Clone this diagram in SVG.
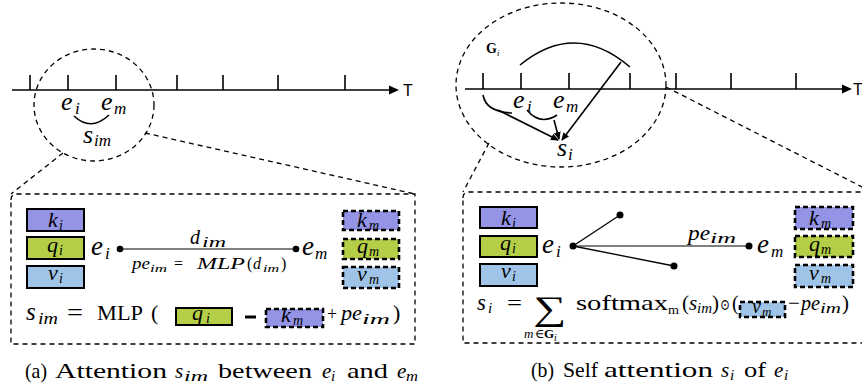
<svg xmlns="http://www.w3.org/2000/svg" width="862" height="389" viewBox="0 0 862 389">
<style>
.ln{stroke:#000;stroke-width:1.6;fill:none}
.tk{stroke:#000;stroke-width:1.6}
.dsh{stroke:#000;stroke-width:1.3;fill:none;stroke-dasharray:5,4}
.sb{stroke:#000;stroke-width:2;}
.db{stroke:#000;stroke-width:2.6;stroke-dasharray:5,3}
.pur{fill:#9494e6}
.grn{fill:#b4cf47}
.blu{fill:#9fc4e7}
.m{font-family:"Liberation Serif","DejaVu Serif",serif;font-style:italic;fill:#000}
.r{font-family:"Liberation Serif","DejaVu Serif",serif;fill:#000}
.s{font-family:"Liberation Sans",Arial,sans-serif;fill:#000}
</style>
<defs>
<marker id="ah" markerWidth="8" markerHeight="8" refX="7" refY="4" orient="auto" markerUnits="userSpaceOnUse">
<path d="M0,0.5 L8,4 L0,7.5 z" fill="#000"/>
</marker>
</defs>

<!-- ===== Panel (a) ===== -->
<g id="timeline-a">
<line class="ln" x1="12" y1="90" x2="390" y2="90"/>
<path d="M389,85.5 L399,90 L389,94.5 z" fill="#000"/>
<text class="s" x="403" y="96" font-size="16">T</text>
<line class="tk" x1="30" y1="75" x2="30" y2="90"/>
<line class="tk" x1="68" y1="75" x2="68" y2="90"/>
<line class="tk" x1="116" y1="75" x2="116" y2="90"/>
<line class="tk" x1="177" y1="75" x2="177" y2="90"/>
<line class="tk" x1="223" y1="75" x2="223" y2="90"/>
<line class="tk" x1="278" y1="75" x2="278" y2="90"/>
<line class="tk" x1="345" y1="75" x2="345" y2="90"/>
</g>
<g id="zoom-a">
<ellipse class="dsh" cx="94" cy="105" rx="60" ry="56"/>
<text class="m" font-size="26" x="61" y="110">e</text><text class="m" font-size="17" x="75" y="114">i</text>
<text class="m" font-size="26" x="101" y="110">e</text><text class="m" font-size="17" x="114" y="114">m</text>
<text class="m" font-size="26" x="83" y="143">s</text><text class="m" font-size="17" x="94" y="146">im</text>
</g>
<g id="connectors">
<path class="ln" d="M74,116 Q91,132 109,115"/>
<line class="dsh" x1="63" y1="153" x2="11" y2="194"/>
<line class="dsh" x1="145" y1="133" x2="415" y2="194"/>
<path class="ln" d="M520,65 Q575,20 630,67"/>
<line class="ln" x1="621" y1="62" x2="562" y2="140" marker-end="url(#ah)"/>
<path class="ln" d="M483,95 Q486,112 512,113"/>
<line class="ln" x1="498" y1="110" x2="558" y2="140" marker-end="url(#ah)"/>
<path class="ln" d="M527,110 Q540,126 557,115"/>
<line class="ln" x1="554" y1="120" x2="559" y2="139" marker-end="url(#ah)"/>
<line class="dsh" x1="489" y1="143" x2="463" y2="192"/>
<line class="dsh" x1="666" y1="87" x2="870" y2="191"/>
<line stroke="#000" stroke-width="1" x1="120" y1="249" x2="296" y2="249"/>
<line stroke="#000" stroke-width="1.3" x1="573" y1="246" x2="620" y2="215"/>
<line stroke="#000" stroke-width="1.3" x1="573" y1="246" x2="674" y2="266"/>
<line stroke="#000" stroke-width="1" x1="573" y1="246" x2="749" y2="246"/>
</g>
<g id="box-a">
<path class="dsh" d="M11,200 Q11,194 17,194 L415,194 L415,344 L11,344 Z"/>
</g>
<g id="ki-a"><rect class="sb pur" x="27" y="209" width="57" height="22"/>
<text class="m" font-size="22" x="48" y="227">k</text><text class="m" font-size="14" x="59" y="230">i</text></g>
<g id="qi-a"><rect class="sb grn" x="27" y="237" width="57" height="22"/>
<text class="m" font-size="22" x="47" y="252">q</text><text class="m" font-size="14" x="59" y="255">i</text></g>
<g id="vi-a"><rect class="sb blu" x="27" y="266" width="57" height="22"/>
<text class="m" font-size="22" x="48" y="280">v</text><text class="m" font-size="14" x="59" y="283">i</text></g>
<g id="km-a"><rect class="db pur" x="343" y="211" width="56" height="19"/>
<text class="m" font-size="22" x="357" y="227">k</text><text class="m" font-size="14" x="369" y="230">m</text></g>
<g id="qm-a"><rect class="db grn" x="343" y="239" width="56" height="20"/>
<text class="m" font-size="22" x="357" y="253">q</text><text class="m" font-size="14" x="369" y="256">m</text></g>
<g id="vm-a"><rect class="db blu" x="343" y="267" width="56" height="21"/>
<text class="m" font-size="22" x="357" y="281">v</text><text class="m" font-size="14" x="369" y="284">m</text></g>
<g id="ei-a">
<text class="m" font-size="27" x="91" y="255">e</text><text class="m" font-size="17" x="105" y="259">i</text>
<circle cx="120" cy="249" r="3.3" fill="#000"/>
</g>
<g id="em-a">
<circle cx="296" cy="249" r="3.3" fill="#000"/>
<text class="m" font-size="27" x="302" y="255">e</text><text class="m" font-size="17" x="315" y="259">m</text>
</g>
<g id="labels-a">
<text class="m" font-size="20" x="190" y="244">d</text><text class="m" font-size="14" x="202" y="247" textLength="24" lengthAdjust="spacingAndGlyphs">im</text>
<text class="m" font-size="16" x="132" y="269" textLength="18" lengthAdjust="spacingAndGlyphs">pe</text>
<text class="m" font-size="11" x="150" y="272" textLength="17" lengthAdjust="spacingAndGlyphs">im</text>
<text class="r" font-size="16" x="174" y="269">=</text>
<text class="m" font-size="16" x="197" y="269" textLength="48" lengthAdjust="spacingAndGlyphs">MLP</text>
<text class="r" font-size="16" x="247" y="269">(</text>
<text class="m" font-size="16" x="253" y="269">d</text>
<text class="m" font-size="11" x="263" y="272" textLength="16" lengthAdjust="spacingAndGlyphs">im</text>
<text class="r" font-size="16" x="281" y="269">)</text>
</g>
<g id="formula-a">
<text class="m" font-size="25" x="26" y="320">s</text><text class="m" font-size="17" x="38" y="324" textLength="20" lengthAdjust="spacingAndGlyphs">im</text>
<text class="r" font-size="24" x="67" y="320" textLength="16" lengthAdjust="spacingAndGlyphs">=</text>
<text class="r" font-size="22" x="97" y="320" textLength="46" lengthAdjust="spacingAndGlyphs">MLP</text>
<text class="r" font-size="22" x="151" y="320">(</text>
<rect class="sb grn" x="176" y="308" width="56" height="17"/>
<text class="m" font-size="22" x="192" y="320">q</text><text class="m" font-size="14" x="206" y="323">i</text>
<line stroke="#000" stroke-width="3" x1="245" y1="317" x2="256" y2="317"/>
<rect class="db pur" x="266" y="309" width="57" height="18"/>
<text class="m" font-size="22" x="281" y="322">k</text><text class="m" font-size="14" x="293" y="325">m</text>
<text class="r" font-size="18" x="327" y="320">+</text>
<text class="m" font-size="22" x="341" y="320" textLength="21" lengthAdjust="spacingAndGlyphs">pe</text>
<text class="m" font-size="15" x="362" y="324" textLength="28" lengthAdjust="spacingAndGlyphs">im</text>
<text class="r" font-size="22" x="393" y="320">)</text>
</g>
<g id="caption-a">
<text class="r" font-size="21" x="25" y="378" textLength="22" lengthAdjust="spacingAndGlyphs">(a)</text>
<text class="r" font-size="21" x="55" y="378" textLength="112" lengthAdjust="spacingAndGlyphs">Attention</text>
<text class="m" font-size="21" x="175" y="378">s</text><text class="m" font-size="15" x="184" y="381" textLength="24" lengthAdjust="spacingAndGlyphs">im</text>
<text class="r" font-size="21" x="218" y="378" textLength="94" lengthAdjust="spacingAndGlyphs">between</text>
<text class="m" font-size="21" x="322" y="378">e</text><text class="m" font-size="15" x="331" y="381">i</text>
<text class="r" font-size="21" x="347" y="378" textLength="41" lengthAdjust="spacingAndGlyphs">and</text>
<text class="m" font-size="21" x="397" y="378">e</text><text class="m" font-size="15" x="406" y="381" textLength="12" lengthAdjust="spacingAndGlyphs">m</text>
</g>

<!-- ===== Panel (b) ===== -->
<g id="timeline-b">
<line class="ln" x1="465" y1="89" x2="843" y2="89"/>
<path d="M842,84.5 L852,89 L842,93.5 z" fill="#000"/>
<text class="s" x="853" y="95" font-size="16">T</text>
<line class="tk" x1="483" y1="73" x2="483" y2="89"/>
<line class="tk" x1="521" y1="73" x2="521" y2="89"/>
<line class="tk" x1="569" y1="73" x2="569" y2="89"/>
<line class="tk" x1="630" y1="73" x2="630" y2="89"/>
<line class="tk" x1="676" y1="73" x2="676" y2="89"/>
<line class="tk" x1="731" y1="73" x2="731" y2="89"/>
<line class="tk" x1="796" y1="73" x2="796" y2="89"/>
</g>
<g id="zoom-b">
<ellipse class="dsh" cx="561" cy="85" rx="105" ry="82"/>
<text class="r" font-size="14" font-weight="bold" x="486" y="53">G</text><text class="m" font-size="9" x="497" y="56">i</text>
<text class="m" font-size="26" x="513" y="108">e</text><text class="m" font-size="17" x="527" y="112">i</text>
<text class="m" font-size="26" x="553" y="108">e</text><text class="m" font-size="17" x="566" y="112">m</text>
<text class="m" font-size="26" x="557" y="156">s</text><text class="m" font-size="17" x="568" y="160">i</text>
</g>
<g id="box-b">
<path class="dsh" d="M463,198 Q463,192 469,192 L875,192 L875,343 L463,343 Z"/>
</g>
<g id="ki-b"><rect class="sb pur" x="480" y="207" width="57" height="21"/>
<text class="m" font-size="22" x="501" y="225">k</text><text class="m" font-size="14" x="512" y="228">i</text></g>
<g id="qi-b"><rect class="sb grn" x="480" y="236" width="57" height="21"/>
<text class="m" font-size="22" x="500" y="250">q</text><text class="m" font-size="14" x="512" y="253">i</text></g>
<g id="vi-b"><rect class="sb blu" x="480" y="264" width="57" height="22"/>
<text class="m" font-size="22" x="501" y="278">v</text><text class="m" font-size="14" x="512" y="281">i</text></g>
<g id="km-b"><rect class="db pur" x="795" y="207" width="58" height="22"/>
<text class="m" font-size="22" x="809" y="225">k</text><text class="m" font-size="14" x="821" y="228">m</text></g>
<g id="qm-b"><rect class="db grn" x="795" y="236" width="58" height="21"/>
<text class="m" font-size="22" x="809" y="251">q</text><text class="m" font-size="14" x="821" y="254">m</text></g>
<g id="vm-b"><rect class="db blu" x="795" y="265" width="58" height="22"/>
<text class="m" font-size="22" x="809" y="280">v</text><text class="m" font-size="14" x="821" y="283">m</text></g>
<g id="ei-b">
<text class="m" font-size="27" x="542" y="253">e</text><text class="m" font-size="17" x="556" y="257">i</text>
<circle cx="573" cy="246" r="3.5" fill="#000"/>
</g>
<g id="n1-b"><circle cx="620" cy="215" r="3.5" fill="#000"/></g>
<g id="n2-b"><circle cx="674" cy="266" r="3.5" fill="#000"/></g>
<g id="em-b">
<circle cx="749" cy="246" r="3.5" fill="#000"/>
<text class="m" font-size="27" x="757" y="253">e</text><text class="m" font-size="17" x="771" y="257">m</text>
</g>
<g id="labels-b">
<text class="m" font-size="22" x="688" y="240" textLength="22" lengthAdjust="spacingAndGlyphs">pe</text>
<text class="m" font-size="15" x="710" y="243" textLength="26" lengthAdjust="spacingAndGlyphs">im</text>
</g>
<g id="formula-b">
<text class="m" font-size="23" x="477" y="310">s</text><text class="m" font-size="15" x="488" y="313">i</text>
<text class="r" font-size="22" x="507" y="310" textLength="15" lengthAdjust="spacingAndGlyphs">=</text>
<text class="r" font-size="34" x="533" y="320" textLength="33" lengthAdjust="spacingAndGlyphs">∑</text>
<text class="m" font-size="13" x="524" y="338">m</text>
<text class="r" font-size="13" x="535" y="338">∈</text>
<text class="r" font-size="13" font-weight="bold" x="544" y="338">G</text>
<text class="m" font-size="10" x="554" y="341">i</text>
<text class="r" font-size="21" x="576" y="310" textLength="92" lengthAdjust="spacingAndGlyphs">softmax</text>
<text class="r" font-size="13" x="668" y="314" textLength="11" lengthAdjust="spacingAndGlyphs">m</text>
<text class="r" font-size="21" x="682" y="310">(</text>
<text class="m" font-size="21" x="689" y="310">s</text><text class="m" font-size="14" x="697" y="313" textLength="15" lengthAdjust="spacingAndGlyphs">im</text>
<text class="r" font-size="21" x="712" y="310">)</text>
<text class="r" font-size="16" x="720" y="310" textLength="10" lengthAdjust="spacingAndGlyphs">⊙</text>
<text class="r" font-size="20" x="732" y="310">(</text>
<rect class="db blu" x="740" y="302" width="45" height="15"/>
<text class="m" font-size="20" x="752" y="313">v</text><text class="m" font-size="13" x="762" y="316">m</text>
<text class="r" font-size="21" x="788" y="310">−</text>
<text class="m" font-size="21" x="801" y="310" textLength="19" lengthAdjust="spacingAndGlyphs">pe</text>
<text class="m" font-size="14" x="820" y="313" textLength="21" lengthAdjust="spacingAndGlyphs">im</text>
<text class="r" font-size="21" x="842" y="310">)</text>
</g>
<g id="caption-b">
<text class="r" font-size="21" x="531" y="377" textLength="23" lengthAdjust="spacingAndGlyphs">(b)</text>
<text class="r" font-size="21" x="563" y="377" textLength="35" lengthAdjust="spacingAndGlyphs">Self</text>
<text class="r" font-size="21" x="604" y="377" textLength="109" lengthAdjust="spacingAndGlyphs">attention</text>
<text class="m" font-size="21" x="721" y="377">s</text><text class="m" font-size="15" x="730" y="380">i</text>
<text class="r" font-size="21" x="744" y="377" textLength="22" lengthAdjust="spacingAndGlyphs">of</text>
<text class="m" font-size="21" x="774" y="377">e</text><text class="m" font-size="15" x="784" y="380">i</text>
</g>
</svg>
